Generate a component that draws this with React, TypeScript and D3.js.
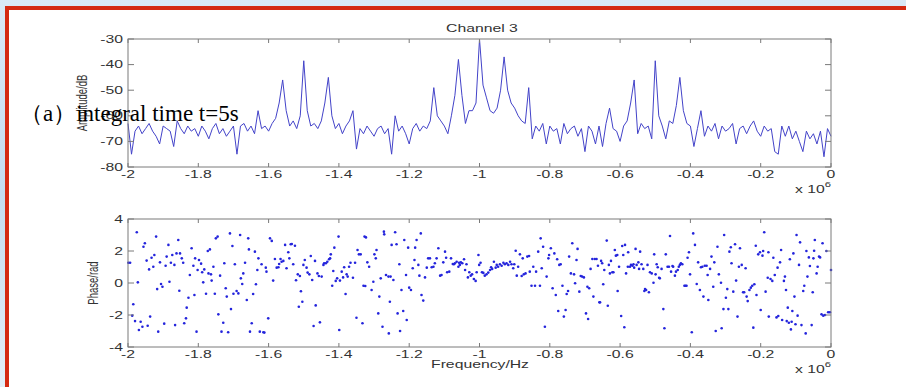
import * as React from "react";
import * as d3 from "d3";

// frequency axis is in units of 10^6 Hz
const xTicks = [-2, -1.8, -1.6, -1.4, -1.2, -1, -0.8, -0.6, -0.4, -0.2, 0];
const xTickLabels = ["-2", "-1.8", "-1.6", "-1.4", "-1.2", "-1", "-0.8", "-0.6", "-0.4", "-0.2", "0"];
const ampTicks = [-30, -40, -50, -60, -70, -80];
const ampTickLabels = ["-30", "-40", "-50", "-60", "-70", "-80"];
const phaseTicks = [4, 2, 0, -2, -4];
const phaseTickLabels = ["4", "2", "0", "-2", "-4"];

// amplitude spectrum, dB, one value per 0.01 x 10^6 Hz from -2 to 0
const ampStart = -2;
const ampStep = 0.01;
const ampDb = [
  -63, -75, -66, -64, -67, -65, -63, -66, -68, -71,
  -64, -65, -66, -72, -62, -65, -67, -64, -66, -65,
  -68, -64, -66, -69, -65, -63, -67, -65, -68, -66,
  -64, -75, -64, -63, -66, -64, -67, -58, -65, -64,
  -66, -63, -61, -55, -46, -58, -64, -62, -65, -60,
  -38.5, -58, -64, -63, -65, -62, -55, -45, -60, -65,
  -63, -67, -64, -62, -58, -73, -65, -67, -64, -66,
  -68, -65, -64, -67, -65, -75, -60, -66, -64, -67,
  -71, -65, -63, -66, -64, -65, -62, -49, -60, -62,
  -64, -67, -60, -52, -38, -52, -63, -58, -58, -55,
  -30, -48, -53, -58, -59, -57, -50, -37, -50, -55,
  -57, -60, -62, -63, -49, -69, -64, -66, -63, -71,
  -64, -66, -65, -71, -63, -67, -65, -64, -68, -65,
  -74, -64, -66, -71, -64, -72, -63, -57, -65, -66,
  -70, -64, -62, -55, -46, -67, -63, -65, -64, -69,
  -38.5, -60, -64, -69, -62, -63, -56, -45, -58, -63,
  -64, -72, -65, -58, -68, -64, -66, -63, -69, -64,
  -66, -65, -63, -71, -65, -64, -67, -64, -62, -66,
  -68, -64, -66, -65, -74, -75, -64, -68, -64, -69,
  -66, -70, -74, -66, -69, -67, -71, -66, -76, -65,
  -68,
];

// phase scatter: [frequency (x 10^6 Hz), phase (rad)]
const phasePoints: [number, number][] = [
  [-1.999, 1.27], [-1.994, 1.27], [-1.988, -2.04], [-1.985, -1.33], [-1.98, -2.38], [-1.975, 3.17], [-1.972, 0.04],
  [-1.969, -2.94], [-1.964, -2.42], [-1.959, -2.73], [-1.956, 2.27], [-1.952, 2.48], [-1.947, 1.4], [-1.944, -2.67],
  [-1.94, 0.85], [-1.937, -2.1], [-1.933, 1.58], [-1.928, 1.02], [-1.925, 1.75], [-1.92, 2.9], [-1.917, -0.38],
  [-1.914, -3.04], [-1.909, 1.29], [-1.906, -0.06], [-1.902, -0.23], [-1.897, -2.54], [-1.893, 1.08], [-1.89, 1.65],
  [-1.885, 2.38], [-1.882, 0.08], [-1.878, 1.27], [-1.874, 1.75], [-1.868, 1.13], [-1.866, -2.63], [-1.862, 1.85],
  [-1.857, 2.69], [-1.854, -0.48], [-1.852, 1.85], [-1.847, 1.54], [-1.843, 1.27], [-1.84, -2.52], [-1.835, -2.21],
  [-1.833, -1.54], [-1.828, -0.92], [-1.824, 0.5], [-1.819, 2.17], [-1.814, 1.08], [-1.811, -0.75], [-1.809, 1.54],
  [-1.805, -3.04], [-1.802, 0.81], [-1.798, 1.44], [-1.792, 1.21], [-1.789, 0.67], [-1.786, 0.04], [-1.783, 0.85],
  [-1.778, -0.67], [-1.773, 2.0], [-1.771, 0.6], [-1.767, 2.1], [-1.764, 0.54], [-1.762, 0.15], [-1.757, 1.02],
  [-1.753, -0.67], [-1.75, 2.79], [-1.745, 2.9], [-1.743, -1.96], [-1.738, 0.46], [-1.734, -3.04], [-1.729, -2.48],
  [-1.726, 1.23], [-1.722, -0.33], [-1.719, -0.85], [-1.715, -3.08], [-1.71, 3.1], [-1.707, -1.63], [-1.703, 2.31],
  [-1.7, -0.67], [-1.696, 1.17], [-1.691, -0.5], [-1.686, -0.65], [-1.681, 3.0], [-1.679, 0.29], [-1.675, -0.06],
  [-1.672, 0.6], [-1.667, 1.27], [-1.662, -1.06], [-1.658, 2.79], [-1.656, 2.1], [-1.653, -3.04], [-1.648, -2.52],
  [-1.644, -0.69], [-1.639, 1.96], [-1.636, -0.08], [-1.632, 0.81], [-1.629, 1.54], [-1.625, -3.04], [-1.62, 1.17],
  [-1.615, -3.08], [-1.612, -3.1], [-1.608, 0.96], [-1.606, 0.71], [-1.601, -2.21], [-1.596, 2.79], [-1.591, 2.63],
  [-1.587, 0.15], [-1.582, 1.5], [-1.577, 0.96], [-1.572, 0.98], [-1.57, 1.19], [-1.566, 1.5], [-1.563, 1.33],
  [-1.558, 1.38], [-1.553, 2.38], [-1.549, 0.92], [-1.544, 1.92], [-1.541, 1.54], [-1.537, 2.42], [-1.534, 2.44],
  [-1.53, 1.17], [-1.525, 2.33], [-1.522, 0.17], [-1.517, 0.54], [-1.514, -1.48], [-1.511, 0.44], [-1.508, -0.52],
  [-1.504, -1.17], [-1.501, 1.13], [-1.497, 1.44], [-1.492, 0.96], [-1.489, 0.65], [-1.484, 0.54], [-1.48, 1.69],
  [-1.476, 0.19], [-1.472, -2.69], [-1.468, 1.38], [-1.466, -1.4], [-1.461, 0.6], [-1.457, 0.44], [-1.454, -2.46],
  [-1.449, 0.4], [-1.444, 1.13], [-1.442, 1.23], [-1.437, 1.23], [-1.433, 1.33], [-1.428, 1.48], [-1.425, 1.54],
  [-1.423, 1.79], [-1.419, -0.17], [-1.416, 0.75], [-1.413, 2.21], [-1.409, 0.13], [-1.405, 0.29], [-1.401, 2.9],
  [-1.399, -2.94], [-1.397, 0.15], [-1.392, 0.71], [-1.388, 0.35], [-1.385, 0.98], [-1.381, -0.69], [-1.378, 0.54],
  [-1.375, 0.4], [-1.371, 1.02], [-1.367, 1.27], [-1.36, 0.33], [-1.354, 1.27], [-1.35, -2.17], [-1.347, 2.06],
  [-1.343, 1.79], [-1.338, 1.79], [-1.333, -2.52], [-1.33, -0.17], [-1.327, 2.9],
  [-1.325, -0.19], [-1.323, 2.85], [-1.319, 1.29], [-1.314, 1.02], [-1.307, -0.44], [-1.302, 0.08], [-1.299, 1.79],
  [-1.295, 1.54], [-1.293, 2.06], [-1.288, -1.9], [-1.285, -0.85], [-1.281, 0.29], [-1.276, -2.73], [-1.272, 3.21],
  [-1.271, 3.04], [-1.266, 0.5], [-1.259, 0.4], [-1.258, -3.15], [-1.255, -1.17], [-1.253, 0.4], [-1.25, 2.38],
  [-1.245, 0.19], [-1.24, 3.17], [-1.236, 2.42], [-1.233, -1.9], [-1.228, 1.17], [-1.226, -3.0], [-1.222, -0.44],
  [-1.217, -1.75], [-1.214, 2.69], [-1.209, 0.5], [-1.207, -2.31], [-1.203, 2.21], [-1.2, -0.29], [-1.195, -0.44],
  [-1.19, 0.92], [-1.185, 1.44], [-1.183, 2.21], [-1.179, 2.69], [-1.174, 1.13], [-1.171, 0.46], [-1.167, 3.1],
  [-1.165, -0.75], [-1.16, -1.1], [-1.155, 0.35], [-1.15, 0.96], [-1.146, 1.54], [-1.141, 1.54], [-1.136, 0.98],
  [-1.131, 1.02], [-1.127, 1.23], [-1.122, 1.54], [-1.117, 2.17], [-1.112, 0.46], [-1.108, 0.5], [-1.103, 1.29],
  [-1.098, 1.96], [-1.095, 1.58], [-1.092, 0.67], [-1.086, 0.71], [-1.081, 1.54], [-1.076, 1.19], [-1.073, 1.17],
  [-1.07, 1.23], [-1.065, 1.33], [-1.06, 1.02], [-1.058, 1.27], [-1.056, 1.13], [-1.053, 1.29], [-1.049, 1.23],
  [-1.044, 1.48], [-1.041, 0.81], [-1.037, 1.17], [-1.033, 0.35], [-1.029, 0.67], [-1.025, 0.46], [-1.021, 0.54],
  [-1.016, 0.25], [-1.011, 0.13], [-1.008, 0.67], [-1.003, 1.75], [-1.001, 1.13], [-0.997, 1.27], [-0.993, 0.67],
  [-0.989, 0.63], [-0.985, 0.46], [-0.98, 0.54], [-0.975, 0.65], [-0.97, 0.81], [-0.967, 0.98], [-0.964, 0.88],
  [-0.959, 1.33], [-0.954, 0.96], [-0.951, 1.13], [-0.947, 1.02], [-0.942, 1.17], [-0.937, 1.08], [-0.932, 1.27],
  [-0.928, 1.17], [-0.923, 1.23], [-0.918, 1.13], [-0.913, 1.33], [-0.909, 1.17], [-0.904, 0.92], [-0.901, 1.17],
  [-0.897, 2.02], [-0.894, 0.46], [-0.89, 1.02], [-0.885, 1.79], [-0.88, 0.44], [-0.877, 1.54], [-0.874, 0.54],
  [-0.869, 0.6], [-0.864, 1.65], [-0.859, 1.69], [-0.857, 0.71], [-0.852, -0.17], [-0.847, 1.02], [-0.842, -0.17],
  [-0.839, 0.71], [-0.833, 1.96], [-0.828, -0.17], [-0.826, 2.79], [-0.823, 0.92], [-0.819, 2.27], [-0.814, -2.73],
  [-0.809, 0.4], [-0.804, 1.54], [-0.802, 1.75], [-0.797, 2.17], [-0.792, -0.33], [-0.787, 1.85], [-0.783, -0.75],
  [-0.779, 1.48], [-0.776, -1.75], [-0.773, 1.13], [-0.769, 1.17], [-0.764, -0.17], [-0.76, -2.1], [-0.755, -1.69],
  [-0.752, -0.69], [-0.748, -0.5], [-0.745, 1.65], [-0.74, 0.6], [-0.736, 2.48], [-0.731, 0.54], [-0.728, -0.02],
  [-0.724, 1.44], [-0.721, 2.13], [-0.716, -0.54], [-0.712, 0.44], [-0.708, 0.4], [-0.703, 0.35], [-0.697, -1.9],
  [-0.693, -0.23], [-0.691, -2.25], [-0.688, -0.33], [-0.684, 0.88], [-0.679, 1.5], [-0.676, -0.85], [-0.672, 1.5],
  [-0.667, 1.5], [-0.663, 1.08], [-0.659, -1.21],
  [-0.657, -1.21], [-0.654, 1.38], [-0.651, 1.23], [-0.648, -0.08], [-0.645, 0.81], [-0.638, 2.65], [-0.635, -1.42],
  [-0.632, 1.13], [-0.629, 0.6], [-0.626, 1.38], [-0.622, 0.67], [-0.619, 0.67], [-0.615, 2.06], [-0.612, 1.71],
  [-0.608, 1.75], [-0.607, -0.5], [-0.603, 1.02], [-0.597, -2.06], [-0.594, 2.31], [-0.591, 1.75], [-0.588, -2.77],
  [-0.586, 2.38], [-0.583, 0.6], [-0.578, 1.02], [-0.577, 1.92], [-0.572, 1.02], [-0.569, 1.13], [-0.565, 1.08],
  [-0.562, 1.17], [-0.56, 0.96], [-0.556, 2.13], [-0.553, 1.13], [-0.548, 1.29], [-0.546, 0.88], [-0.543, 1.96],
  [-0.539, 1.17], [-0.534, 0.88], [-0.531, -0.5], [-0.529, -0.38], [-0.526, -0.44], [-0.522, 1.13], [-0.518, -0.58],
  [-0.515, 0.67], [-0.51, 0.6], [-0.505, 0.02], [-0.503, 1.79], [-0.499, 0.54], [-0.496, 1.17], [-0.493, 0.98],
  [-0.489, 0.33], [-0.487, 0.29], [-0.482, 0.88], [-0.477, -1.63], [-0.474, -2.83], [-0.47, 1.79], [-0.465, 1.02],
  [-0.461, 1.02], [-0.458, 2.94], [-0.455, 0.71], [-0.451, 1.06], [-0.449, 1.02], [-0.444, 0.46], [-0.441, 0.71],
  [-0.436, 0.81], [-0.433, 1.02], [-0.43, 1.13], [-0.427, 1.23], [-0.423, 1.17], [-0.417, -0.17], [-0.414, -0.17],
  [-0.411, -0.17], [-0.408, 1.58], [-0.404, 1.92], [-0.401, 0.54], [-0.396, -3.08], [-0.392, 3.1], [-0.387, 2.38],
  [-0.382, -0.06], [-0.378, 1.29], [-0.373, -0.44], [-0.37, 0.98], [-0.366, 1.02], [-0.363, -0.85], [-0.359, 1.08],
  [-0.354, 1.08], [-0.351, 0.5], [-0.349, -1.06], [-0.344, 0.88], [-0.34, 1.65], [-0.335, -0.23], [-0.332, 1.29],
  [-0.328, -3.0], [-0.323, 2.27], [-0.319, 0.54], [-0.313, 0.02], [-0.311, -2.83], [-0.306, -1.63], [-0.304, 3.0],
  [-0.299, -0.92], [-0.295, -0.38], [-0.292, -1.63], [-0.289, 1.96], [-0.285, 2.23], [-0.283, 1.23], [-0.278, -0.54],
  [-0.273, 2.42], [-0.27, 0.15], [-0.266, -2.1], [-0.262, 1.02], [-0.259, 2.17], [-0.254, 1.13], [-0.25, -0.58],
  [-0.247, -0.58], [-0.243, 0.92], [-0.24, -0.85], [-0.237, -1.13], [-0.232, -0.44], [-0.228, -0.29], [-0.224, -0.17],
  [-0.221, -2.79], [-0.218, -0.08], [-0.214, 2.33], [-0.212, -0.75], [-0.207, 1.79], [-0.202, 1.92], [-0.2, -1.69],
  [-0.195, 1.71], [-0.193, 2.0], [-0.19, 3.17], [-0.186, -0.54], [-0.18, 0.33], [-0.178, 1.92], [-0.177, -2.1],
  [-0.172, 0.25], [-0.167, 0.13], [-0.164, 1.58], [-0.16, 0.5], [-0.155, -2.15], [-0.152, 0.96], [-0.15, -2.06],
  [-0.145, 1.29], [-0.142, 2.06], [-0.139, -2.31], [-0.134, 0.13], [-0.131, 0.4], [-0.128, -0.44], [-0.126, -2.38],
  [-0.123, -1.54], [-0.12, -2.48], [-0.117, 1.48], [-0.114, -2.9], [-0.112, -2.42], [-0.11, -1.75], [-0.107, 1.85],
  [-0.104, -0.85], [-0.101, -2.58], [-0.098, 3.0], [-0.095, -2.04], [-0.091, 1.13], [-0.088, 2.54], [-0.084, -2.63],
  [-0.079, -0.5], [-0.076, -0.17], [-0.072, -3.15], [-0.07, 2.0], [-0.067, 0.4], [-0.063, 1.6], [-0.06, 1.06],
  [-0.055, -2.63], [-0.052, -0.58], [-0.05, 1.54], [-0.048, 2.02], [-0.046, 2.69], [-0.041, 0.6], [-0.038, 1.02],
  [-0.034, 1.65], [-0.031, 1.6], [-0.027, -1.96], [-0.024, 2.48], [-0.022, -2.04], [-0.017, -2.0], [-0.013, 2.0],
  [-0.008, -1.83], [-0.003, -1.83], [0, 0.81],
];

const WIDTH = 906;
const HEIGHT = 387;
const AXIS = "#7a7a7a";
const INK = "#333";
const FONT = "'Liberation Sans', Arial, sans-serif";
const STRETCH = 1.5; // the figure was widened when pasted into the slide

interface PanelProps {
  top: number;
  bottom: number;
  left: number;
  right: number;
  y: d3.ScaleLinear<number, number>;
  yTicks: number[];
  yTickLabels: string[];
  yLabel: string;
  yLabelX: number;
}

const x = d3.scaleLinear().domain([-2, 0]).range([128, 831]);

const Panel: React.FC<PanelProps & { children?: React.ReactNode }> = ({
  top,
  bottom,
  left,
  right,
  y,
  yTicks,
  yTickLabels,
  yLabel,
  yLabelX,
  children,
}) => (
  <g>
    {children}
    <rect
      x={left}
      y={top}
      width={right - left}
      height={bottom - top}
      fill="none"
      stroke={AXIS}
      strokeWidth={1}
    />
    {xTicks.map((t, i) => (
      <g key={i}>
        <line x1={x(t)} x2={x(t)} y1={bottom} y2={bottom - 4} stroke={AXIS} />
        <line x1={x(t)} x2={x(t)} y1={top} y2={top + 4} stroke={AXIS} />
        <text
          transform={`translate(${x(t)},${bottom + 11}) scale(${STRETCH},1)`}
          textAnchor="middle"
          fontSize={10.5}
          fill={INK}
          fontFamily={FONT}
        >
          {xTickLabels[i]}
        </text>
      </g>
    ))}
    {yTicks.map((t, i) => (
      <g key={i}>
        <line x1={left} x2={left + 6} y1={y(t)} y2={y(t)} stroke={AXIS} />
        <line x1={right} x2={right - 6} y1={y(t)} y2={y(t)} stroke={AXIS} />
        <text
          transform={`translate(${left - 5},${y(t)}) scale(${STRETCH},1)`}
          textAnchor="end"
          dy="0.35em"
          fontSize={10.5}
          fill={INK}
          fontFamily={FONT}
        >
          {yTickLabels[i]}
        </text>
      </g>
    ))}
    <text
      transform={`translate(${yLabelX},${(top + bottom) / 2}) scale(${STRETCH},1) rotate(-90)`}
      textAnchor="middle"
      dy="0.35em"
      fontSize={9.5}
      fill={INK}
      fontFamily={FONT}
    >
      {yLabel}
    </text>
    <text
      transform={`translate(795,${bottom + 26}) scale(${STRETCH},1)`}
      fontSize={10.5}
      fill={INK}
      fontFamily={FONT}
    >
      x 10
      <tspan fontSize={7.5} dy={-6}>
        6
      </tspan>
    </text>
  </g>
);

const App: React.FC = () => {
  const yAmp = d3.scaleLinear().domain([-80, -30]).range([167, 39]);
  const yPh = d3.scaleLinear().domain([-4, 4]).range([347, 219]);

  const ampFreq = ampDb.map((_, i) => ampStart + i * ampStep);
  const line = d3
    .line<number>()
    .x((_, i) => x(ampFreq[i]))
    .y((d) => yAmp(d));

  return (
    <svg
      width={WIDTH}
      height={HEIGHT}
      viewBox={`0 0 ${WIDTH} ${HEIGHT}`}
      style={{ position: "absolute", left: 0, top: 0, display: "block" }}
    >
      <defs>
        <linearGradient id="slideBg" x1="0" y1="0" x2="0" y2="1">
          <stop offset="0" stopColor="#d9e9f6" />
          <stop offset="0.5" stopColor="#c4dcef" />
          <stop offset="1" stopColor="#e3eef7" />
        </linearGradient>
      </defs>
      <rect width={WIDTH} height={HEIGHT} fill="url(#slideBg)" />
      <rect x={7} y={8} width={WIDTH + 10} height={HEIGHT + 10} fill="#fff" stroke="#d42a12" strokeWidth={4} />

      <text
        x={482}
        y={32}
        transform={`translate(482,0) scale(${STRETCH},1) translate(-482,0)`}
        textAnchor="middle"
        fontSize={10.5}
        fill={INK}
        fontFamily={FONT}
      >
        Channel 3
      </text>

      <Panel
        top={39}
        bottom={167}
        left={128}
        right={831}
        y={yAmp}
        yTicks={ampTicks}
        yTickLabels={ampTickLabels}
        yLabel="Amplitude/dB"
        yLabelX={82}
      >
        <path d={line(ampDb) || ""} fill="none" stroke="#4343c9" strokeWidth={1} strokeLinejoin="round" />
      </Panel>

      <Panel
        top={219}
        bottom={347}
        left={128}
        right={831}
        y={yPh}
        yTicks={phaseTicks}
        yTickLabels={phaseTickLabels}
        yLabel="Phase/rad"
        yLabelX={93}
      >
        <g fill="#2424dc">
          {phasePoints.map(([f, p], i) => (
            <circle key={i} cx={x(f)} cy={yPh(p)} r={1.3} />
          ))}
        </g>
      </Panel>

      <text
        transform={`translate(480,368) scale(${STRETCH},1)`}
        textAnchor="middle"
        fontSize={10.5}
        fill={INK}
        fontFamily={FONT}
      >
        Frequency/Hz
      </text>

      <text x={20} y={121} fontSize={23} fill="#000" fontFamily="'Liberation Serif', 'Times New Roman', serif">
        （a）integral time t=5s
      </text>
    </svg>
  );
};

export default App;
